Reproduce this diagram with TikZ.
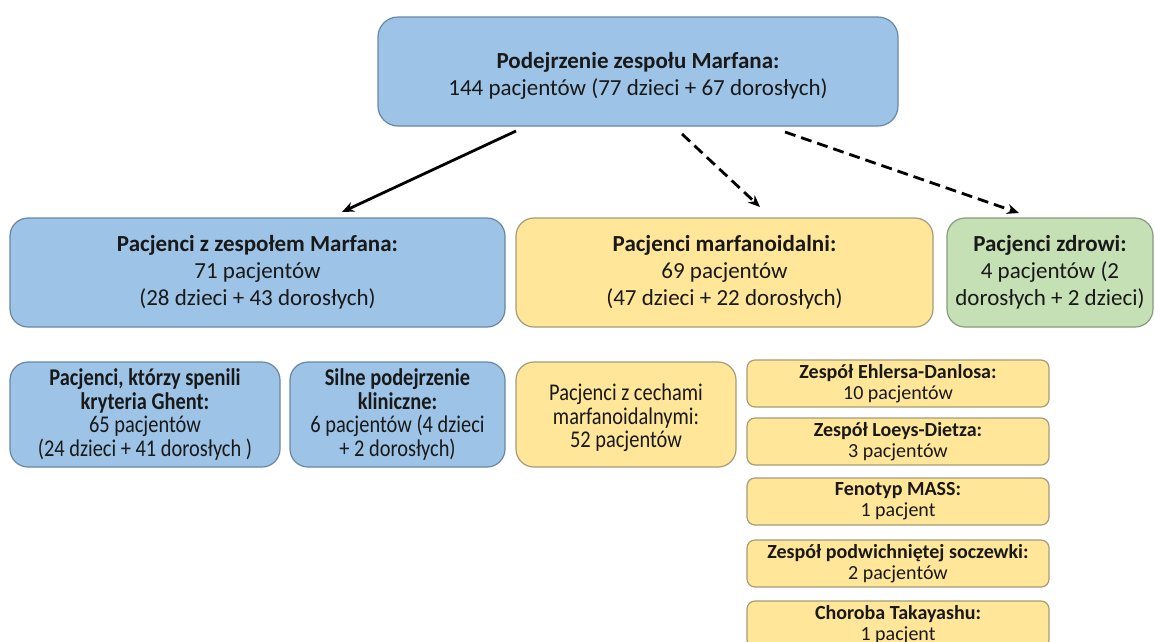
\documentclass[tikz,border=0pt]{standalone}
\usepackage{fontspec}
\setmainfont{Carlito}
\newfontfamily\tallfont[FakeStretch=0.85]{Carlito}
\usetikzlibrary{arrows.meta}
\definecolor{bfill}{RGB}{157,195,230}
\definecolor{bdraw}{RGB}{105,135,165}
\definecolor{yfill}{RGB}{255,230,153}
\definecolor{ydraw}{RGB}{165,155,120}
\definecolor{gfill}{RGB}{197,224,180}
\definecolor{gdraw}{RGB}{135,155,125}
\definecolor{txt}{RGB}{25,25,25}
\begin{document}
\begin{tikzpicture}[x=1pt,y=-1pt,
  base/.style={rounded corners=#1, line width=1.2pt, align=center, inner sep=0pt, text=txt},
  bluebox/.style={base=#1, draw=bdraw, fill=bfill},
  yelbox/.style={base=#1, draw=ydraw, fill=yfill},
  grnbox/.style={base=#1, draw=gdraw, fill=gfill},
  big/.style={font=\fontsize{23}{27}\selectfont},
  tall/.style={font=\tallfont\fontsize{24}{23.5}\selectfont},
  mid/.style={font=\fontsize{20}{21}\selectfont},
  arr/.style={line width=2.8pt, -{Stealth[length=12pt,width=10pt]}},
  darr/.style={arr, dash pattern=on 11pt off 6pt}
]
\clip (0,0) rectangle (1155,641);
\fill[white] (0,0) rectangle (1155,641);

\node[bluebox=20pt, big, minimum width=520pt, minimum height=109pt] (top) at (638,71.5)
  {\rule{0pt}{24pt}\textbf{Podejrzenie zespołu Marfana:}\\144 pacjentów (77 dzieci + 67 dorosłych)};

\node[bluebox=18pt, big, minimum width=495pt, minimum height=109pt] (mfs) at (257.5,272.5)
  {\textbf{Pacjenci z zespołem Marfana:}\\71 pacjentów\\(28 dzieci + 43 dorosłych)};
\node[yelbox=18pt, big, minimum width=417pt, minimum height=109pt] (marf) at (724.5,272.5)
  {\textbf{Pacjenci marfanoidalni:}\\69 pacjentów\\(47 dzieci + 22 dorosłych)};
\node[grnbox=18pt, big, minimum width=206pt, minimum height=109pt] (zdr) at (1050,272.5)
  {\textbf{Pacjenci zdrowi:}\\4 pacjentów (2\\dorosłych + 2 dzieci)};

\node[bluebox=18pt, tall, minimum width=270pt, minimum height=105pt] (ghent) at (145,414.5)
  {\textbf{Pacjenci, którzy spenili}\\\textbf{kryteria Ghent:}\\65 pacjentów\\(24 dzieci + 41 dorosłych )};
\node[bluebox=18pt, tall, minimum width=215pt, minimum height=105pt] (silne) at (397.5,414.5)
  {\textbf{Silne podejrzenie}\\\textbf{kliniczne:}\\6 pacjentów (4 dzieci\\+ 2 dorosłych)};
\node[yelbox=18pt, tall, minimum width=220pt, minimum height=105pt] (cechy) at (626,414.5)
  {\rule{0pt}{24pt}Pacjenci z cechami\\marfanoidalnymi:\\52 pacjentów};

\node[yelbox=8pt, mid, minimum width=302pt, minimum height=47pt] (ed) at (898,383.5)
  {\textbf{Zespół Ehlersa-Danlosa:}\\10 pacjentów};
\node[yelbox=8pt, mid, minimum width=302pt, minimum height=47pt] (ld) at (898,441.5)
  {\textbf{Zespół Loeys-Dietza:}\\3 pacjentów};
\node[yelbox=8pt, mid, minimum width=302pt, minimum height=47pt] (mass) at (898,501.5)
  {\textbf{Fenotyp MASS:}\\1 pacjent};
\node[yelbox=8pt, mid, minimum width=302pt, minimum height=47pt] (pod) at (898,563.5)
  {\textbf{Zespół podwichniętej soczewki:}\\2 pacjentów};
\node[yelbox=8pt, mid, minimum width=302pt, minimum height=47pt] (tak) at (898,624.5)
  {\textbf{Choroba Takayashu:}\\1 pacjent};

\coordinate (a1s) at (516,131);
\coordinate (a1e) at (342,212);
\coordinate (a2s) at (682,134);
\coordinate (a2e) at (760,207);
\coordinate (a3s) at (785,132);
\coordinate (a3e) at (1019,213);
\draw[arr] (a1s) -- (a1e);
\draw[darr] (a2s) -- (a2e);
\draw[darr] (a3s) -- (a3e);
\end{tikzpicture}
\end{document}
